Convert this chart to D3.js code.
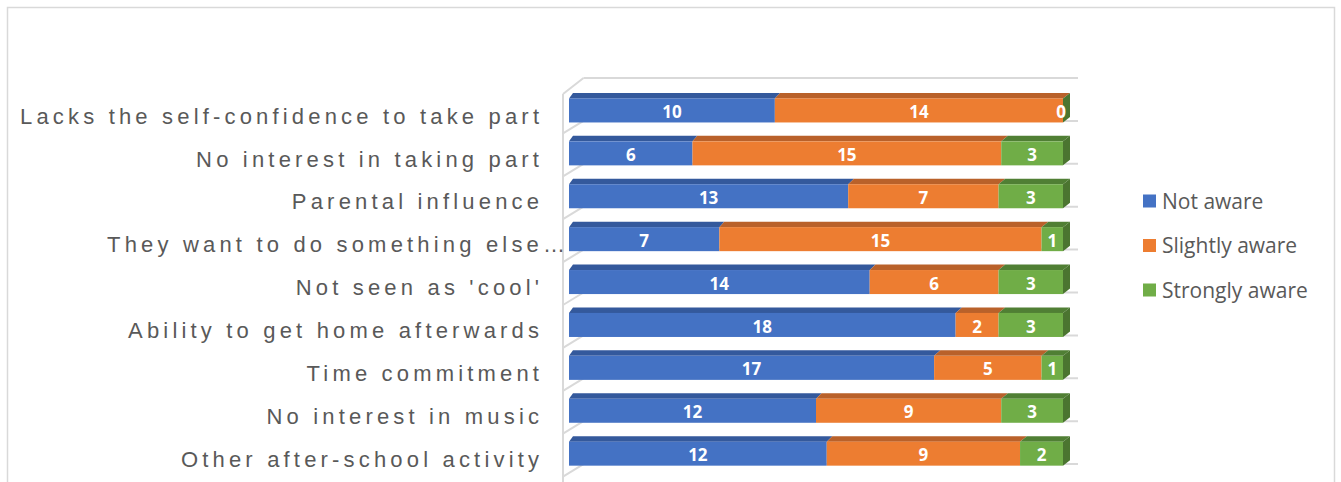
<!DOCTYPE html>
<html>
<head>
<meta charset="utf-8">
<script src="https://cdn.jsdelivr.net/npm/d3@7"></script>
<style>
  html, body { margin: 0; padding: 0; background: #fff; }
  svg { display: block; }
</style>
</head>
<body>
<svg id="chart" width="1341" height="482"></svg>
<script>
const categories = [
  "Lacks the self-confidence to take part",
  "No interest in taking part",
  "Parental influence",
  "They want to do something else…",
  "Not seen as 'cool'",
  "Ability to get home afterwards",
  "Time commitment",
  "No interest in music",
  "Other after-school activity"
];
const notAware      = [10, 6, 13, 7, 14, 18, 17, 12, 12];
const slightlyAware = [14, 15, 7, 15, 6, 2, 5, 9, 9];
const stronglyAware = [0, 3, 3, 1, 3, 3, 1, 3, 2];
const seriesNames = ["Not aware", "Slightly aware", "Strongly aware"];

const frontColors = ["#4472C4", "#ED7D31", "#70AD47"];
const topColors   = ["#34599c", "#b9612a", "#507f34"];
const sideColors  = ["#2e4f8a", "#a9571f", "#4b7530"];

const rows = categories.map((c, i) => ({
  cat: c,
  "Not aware": notAware[i],
  "Slightly aware": slightlyAware[i],
  "Strongly aware": stronglyAware[i]
}));

const stacked = d3.stack().keys(seriesNames).offset(d3.stackOffsetExpand)(rows);

const svg = d3.select("#chart");
svg.append("rect").attr("width", 1341).attr("height", 482).attr("fill", "#fff");

// chart border
svg.append("rect")
  .attr("x", 7.5).attr("y", 7.5).attr("width", 1327).attr("height", 500)
  .attr("fill", "none").attr("stroke", "#d9d9d9").attr("stroke-width", 1.5);

const x = d3.scaleLinear().domain([0, 1]).range([569, 1063]);
const y = d3.scaleBand().domain(categories).range([89, 89 + 9 * 42.9])
  .paddingInner(0.44).paddingOuter(0.22);

const depthDx = px => 4 + 3 * (px - 569) / 494;
const depthDy = 5.5;

// walls
const wall = svg.append("g").attr("stroke", "#d9d9d9").attr("stroke-width", 2).attr("fill", "none");
const wallLeft = 563, wallBack = 583.5, wallRight = 1078;
const backY = k => 78 + 42.9 * k;
wall.append("line").attr("x1", wallLeft).attr("x2", wallLeft).attr("y1", 94).attr("y2", 490);
d3.range(0, 10).forEach(k => {
  const yb = backY(k);
  const off = k === 0 ? 16 : 12.5;
  wall.append("line").attr("x1", wallBack).attr("x2", wallRight).attr("y1", yb).attr("y2", yb);
  wall.append("line").attr("x1", wallLeft).attr("y1", yb + off).attr("x2", wallBack).attr("y2", yb);
});

// bars
const bars = svg.append("g");
stacked.forEach((s, si) => {
  const g = bars.append("g");
  s.forEach((d, i) => {
    const cat = categories[i];
    const x0 = x(d[0]), x1 = x(d[1]);
    const yt = y(cat), yb = y(cat) + y.bandwidth();
    const d0 = depthDx(x0), d1 = depthDx(x1);
    g.append("path")
      .attr("d", `M${x0},${yt} L${x1},${yt} L${x1 + d1},${yt - depthDy} L${x0 + d0},${yt - depthDy} Z`)
      .attr("fill", topColors[si]);
    g.append("rect")
      .attr("x", x0).attr("y", yt).attr("width", Math.max(0, x1 - x0)).attr("height", yb - yt)
      .attr("fill", frontColors[si]);
    if (si === stacked.length - 1) {
      g.append("path")
        .attr("d", `M${x1},${yt} L${x1 + d1},${yt - depthDy} L${x1 + d1},${yb - depthDy} L${x1},${yb} Z`)
        .attr("fill", sideColors[si]);
    }
  });
});

// data labels
const valuesBySeries = [notAware, slightlyAware, stronglyAware];
const lbl = svg.append("g")
  .attr("font-family", "'Open Sans', sans-serif").attr("font-weight", "bold")
  .attr("font-size", 17).attr("fill", "#fff").attr("text-anchor", "middle");
stacked.forEach((s, si) => {
  s.forEach((d, i) => {
    const cat = categories[i];
    lbl.append("text")
      .attr("x", (x(d[0]) + x(d[1])) / 2 - (d[1] - d[0] < 0.001 ? 2 : 0))
      .attr("y", y(cat) + y.bandwidth() / 2 + 1.5)
      .attr("dy", "0.36em")
      .text(valuesBySeries[si][i]);
  });
});

// category labels
const catG = svg.append("g")
  .attr("font-family", "'Liberation Sans', Arial, sans-serif")
  .attr("font-size", 22).attr("fill", "#595959");
const probe = catG.append("text").text(categories[0]);
const w0 = probe.node().getComputedTextLength();
probe.remove();
const n0 = categories[0].length;
const ls = (519 - w0) / (n0 - 1);
categories.forEach((c, i) => {
  const truncated = c.endsWith("…");
  catG.append("text")
    .attr("x", (truncated ? 565 : 539) + ls)
    .attr("y", y(c) + y.bandwidth() / 2 + 5.5)
    .attr("dy", "0.35em")
    .attr("text-anchor", "end")
    .style("letter-spacing", ls + "px")
    .text(c);
});

// legend
const leg = svg.append("g")
  .attr("font-family", "'Open Sans', sans-serif").attr("font-size", 21).attr("fill", "#595959");
const legY = d3.scalePoint().domain(seriesNames).range([201, 290]);
seriesNames.forEach((s, si) => {
  const cy = legY(s);
  leg.append("rect").attr("x", 1143).attr("y", cy - 6.5).attr("width", 13).attr("height", 13)
    .attr("fill", frontColors[si]);
  leg.append("text").attr("x", 1162).attr("y", cy).attr("dy", "0.36em").text(s);
});
</script>
</body>
</html>
